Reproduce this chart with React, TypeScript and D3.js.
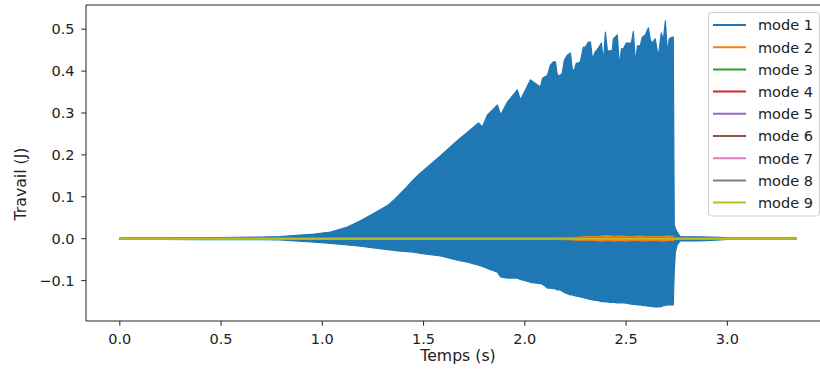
import React from "react";
import * as d3 from "d3";

// ---- data ----
// mode 1: envelope of the fast oscillation (upper / lower), in J, vs time (s)
const m1T = [0, 0.40, 0.70, 0.79, 0.96, 1.04, 1.124, 1.188, 1.253, 1.322, 1.355, 1.386, 1.420, 1.450, 1.485, 1.584, 1.672, 1.717, 1.771, 1.791, 1.815, 1.865, 1.880, 1.914, 1.963, 1.978, 2.028, 2.077, 2.088, 2.112, 2.126, 2.141, 2.151, 2.161, 2.175, 2.185, 2.195, 2.210, 2.225, 2.235, 2.245, 2.254, 2.264, 2.274, 2.289, 2.299, 2.314, 2.324, 2.334, 2.348, 2.363, 2.378, 2.388, 2.398, 2.408, 2.423, 2.432, 2.437, 2.457, 2.467, 2.477, 2.487, 2.501, 2.511, 2.526, 2.536, 2.546, 2.556, 2.570, 2.580, 2.595, 2.610, 2.620, 2.629, 2.644, 2.659, 2.674, 2.684, 2.694, 2.704, 2.713, 2.728, 2.733, 2.738, 2.743, 2.752, 2.767, 2.866, 2.965, 3.014, 3.34];
const m1Hi = [0.001, 0.002, 0.004, 0.005, 0.011, 0.016, 0.028, 0.043, 0.060, 0.079, 0.093, 0.108, 0.125, 0.141, 0.157, 0.198, 0.236, 0.254, 0.276, 0.267, 0.295, 0.319, 0.295, 0.326, 0.355, 0.331, 0.379, 0.362, 0.383, 0.390, 0.414, 0.422, 0.422, 0.390, 0.390, 0.395, 0.426, 0.438, 0.443, 0.403, 0.403, 0.419, 0.419, 0.422, 0.457, 0.457, 0.469, 0.469, 0.429, 0.446, 0.455, 0.467, 0.422, 0.493, 0.448, 0.448, 0.450, 0.477, 0.486, 0.412, 0.453, 0.453, 0.467, 0.467, 0.467, 0.495, 0.420, 0.460, 0.460, 0.481, 0.486, 0.503, 0.474, 0.467, 0.477, 0.434, 0.491, 0.474, 0.520, 0.443, 0.477, 0.481, 0.481, 0.033, 0.025, 0.016, 0.005, 0.0045, 0.003, 0.001, 0.001];
const m1Lo = [-0.001, -0.002, -0.0025, -0.003, -0.008, -0.011, -0.015, -0.018, -0.022, -0.026, -0.028, -0.030, -0.031, -0.032, -0.035, -0.041, -0.052, -0.056, -0.063, -0.066, -0.071, -0.080, -0.091, -0.094, -0.094, -0.097, -0.104, -0.107, -0.109, -0.118, -0.118, -0.119, -0.120, -0.122, -0.122, -0.126, -0.128, -0.131, -0.134, -0.134, -0.136, -0.137, -0.138, -0.139, -0.141, -0.142, -0.144, -0.145, -0.146, -0.147, -0.148, -0.150, -0.150, -0.151, -0.151, -0.152, -0.152, -0.152, -0.153, -0.153, -0.153, -0.153, -0.154, -0.155, -0.156, -0.157, -0.157, -0.158, -0.158, -0.159, -0.160, -0.161, -0.161, -0.162, -0.163, -0.163, -0.162, -0.160, -0.159, -0.158, -0.158, -0.158, -0.158, -0.075, -0.034, -0.015, -0.0055, -0.0055, -0.003, -0.001, -0.001];

// mode 2: small oscillation near the end of the growth
const m2T = [0, 2.05, 2.15, 2.22, 2.26, 2.29, 2.32, 2.35, 2.38, 2.41, 2.44, 2.47, 2.50, 2.53, 2.56, 2.59, 2.62, 2.65, 2.68, 2.71, 2.735, 2.745, 3.34];
const m2Hi = [0, 0.001, 0.002, 0.003, 0.004, 0.005, 0.006, 0.005, 0.007, 0.008, 0.006, 0.007, 0.006, 0.005, 0.007, 0.006, 0.005, 0.006, 0.005, 0.007, 0.006, 0.0005, 0];
const m2Lo = [0, -0.001, -0.002, -0.003, -0.004, -0.005, -0.004, -0.005, -0.006, -0.005, -0.006, -0.005, -0.006, -0.005, -0.005, -0.006, -0.005, -0.005, -0.006, -0.005, -0.005, -0.0005, 0];

// modes 3..9: flat at zero over the whole run
const flatT = [0, 3.34];
const flatV = [0, 0];

const seriesNames = ["mode 1", "mode 2", "mode 3", "mode 4", "mode 5", "mode 6", "mode 7", "mode 8", "mode 9"];
const seriesColors = ["#1f77b4", "#ff7f0e", "#2ca02c", "#d62728", "#9467bd", "#8c564b", "#e377c2", "#7f7f7f", "#bcbd22"];

const xTicks = [0, 0.5, 1.0, 1.5, 2.0, 2.5, 3.0];
const yTicks = [-0.1, 0, 0.1, 0.2, 0.3, 0.4, 0.5];

const W = 820, H = 371;
const L = 86, R = 830, T = 5, B = 321;
const FONT = "DejaVu Sans, sans-serif";
const TICK_FS = 14.5;
const LABEL_FS = 15.7;

export default function App() {
  const x = d3.scaleLinear().domain([-0.167, 3.507]).range([L, R]);
  const y = d3.scaleLinear().domain([-0.1964, 0.5577]).range([B, T]);

  const band = (ts: number[], hi: number[], lo: number[]) =>
    d3.area<number>()
      .x((_, i) => x(ts[i]))
      .y0((_, i) => y(lo[i]))
      .y1((_, i) => y(hi[i]))(ts) || "";

  const flatLine = d3.line<number>().x((_, i) => x(flatT[i])).y((_, i) => y(flatV[i]))(flatT) || "";

  const fmt = (v: number) => {
    const s = Math.abs(v).toFixed(1);
    return v < 0 ? "\u2212" + s : s;
  };

  const rowY = (i: number) => 25 + i * 22.2;

  return (
    <svg width={W} height={H} style={{ position: "absolute", left: 0, top: 0, overflow: "hidden", background: "#fff" }} fontFamily={FONT}>
      <defs>
        <clipPath id="plot"><rect x={L} y={T} width={R - L} height={B - T} /></clipPath>
      </defs>
      <rect x={0} y={0} width={W} height={H} fill="#fff" />
      <g clipPath="url(#plot)">
        <path d={band(m1T, m1Hi, m1Lo)} fill={seriesColors[0]} stroke={seriesColors[0]} strokeWidth={1.2} strokeLinejoin="round" />
        <path d={band(m2T, m2Hi, m2Lo)} fill={seriesColors[1]} stroke={seriesColors[1]} strokeWidth={0.6} />
        {seriesColors.slice(2).map((c, i) => (
          <path key={i} d={flatLine} fill="none" stroke={c} strokeWidth={2} />
        ))}
      </g>
      {/* spines */}
      <g stroke="#222" strokeWidth={1} fill="none">
        <line x1={L} y1={T} x2={L} y2={B} />
        <line x1={L} y1={B} x2={R} y2={B} />
        <line x1={L} y1={T} x2={R} y2={T} />
        <line x1={R} y1={T} x2={R} y2={B} />
      </g>
      {/* x ticks */}
      {xTicks.map((t) => (
        <g key={"x" + t}>
          <line x1={x(t)} x2={x(t)} y1={B} y2={B + 4.7} stroke="#222" strokeWidth={1} />
          <text x={x(t)} y={B + 23} textAnchor="middle" fontSize={TICK_FS} fill="#222">{t.toFixed(1)}</text>
        </g>
      ))}
      {/* y ticks */}
      {yTicks.map((t) => (
        <g key={"y" + t}>
          <line x1={L - 4.7} x2={L} y1={y(t)} y2={y(t)} stroke="#222" strokeWidth={1} />
          <text x={L - 11.5} y={y(t) + 5} textAnchor="end" fontSize={TICK_FS} fill="#222">{fmt(t)}</text>
        </g>
      ))}
      <text x={458} y={361} textAnchor="middle" fontSize={LABEL_FS} fill="#222">Temps (s)</text>
      <text transform={`translate(26,184) rotate(-90)`} textAnchor="middle" fontSize={LABEL_FS} fill="#222">Travail (J)</text>
      {/* legend */}
      <rect x={708.5} y={12.5} width={111} height={203.5} rx={3} fill="#fff" fillOpacity={0.8} stroke="#cccccc" strokeWidth={1} />
      {seriesNames.map((n, i) => (
        <g key={n}>
          <line x1={713} x2={746} y1={rowY(i)} y2={rowY(i)} stroke={seriesColors[i]} strokeWidth={2} />
          <text x={758} y={rowY(i) + 5.3} fontSize={TICK_FS} fill="#222">{n}</text>
        </g>
      ))}
    </svg>
  );
}
